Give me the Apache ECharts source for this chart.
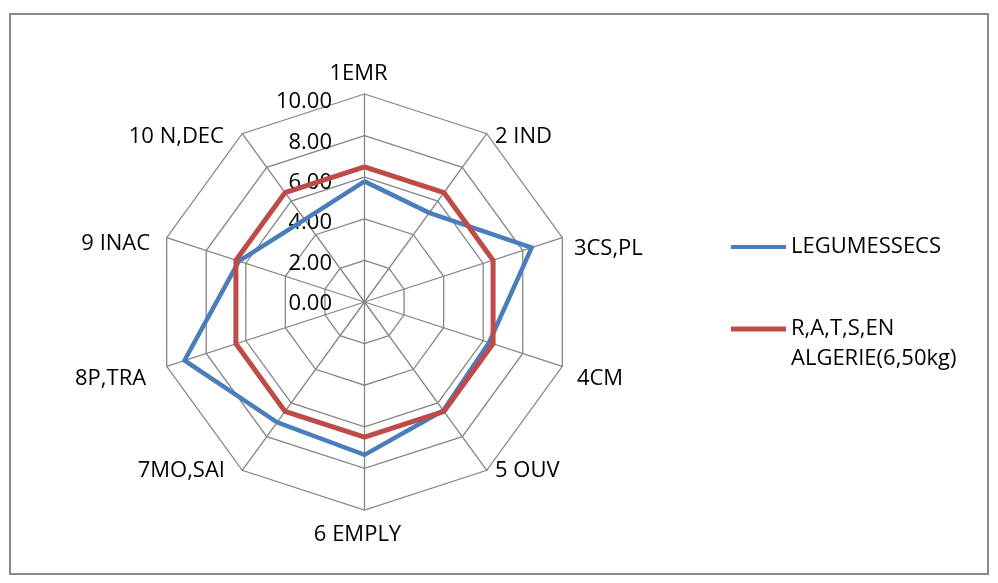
<!DOCTYPE html>
<html>
<head>
<meta charset="utf-8">
<script src="https://cdn.jsdelivr.net/npm/echarts@6/dist/echarts.min.js"></script>
<style>
html,body{margin:0;padding:0;background:#fff;}
#chart{width:998px;height:583px;}
</style>
</head>
<body>
<div id="chart"></div>
<script>
const categories = ['1EMR', '2 IND', '3CS,PL', '4CM', '5 OUV', '6 EMPLY', '7MO,SAI', '8P,TRA', '9 INAC', '10 N,DEC'];
const seriesNames = ['LEGUMESSECS', 'R,A,T,S,EN\nALGERIE(6,50kg)'];
const legumesSecs = [5.8, 5.3, 8.45, 6.3, 6.45, 7.35, 7.15, 9.1, 6.35, 4.9];
const ratsAlgerie = [6.5, 6.5, 6.5, 6.5, 6.5, 6.5, 6.5, 6.5, 6.5, 6.5];
const axisMin = 0, axisMax = 10, axisStep = 2;

const FONT = '"Open Sans", "Noto Sans", sans-serif';
const FS = 22;
const cx = 364.5, cy = 302, R = 208;

// per-name label nudges (padding [top,right,bottom,left]) to mimic the original label placement
const namePads = [[0,12,0,0],[20,0,0,3],[28,0,0,3],[20,0,0,6],[0,0,14,3],[5,14,0,0],[0,12,14,0],[20,12,0,0],[18,8,0,0],[20,13,0,0]];
const rich = {};
namePads.forEach((p, i) => { rich['n' + i] = { color: '#000', fontFamily: FONT, fontSize: FS, padding: p }; });

// ECharts radar runs counter-clockwise; reorder so categories run clockwise from the top
const order = categories.map((_, i) => (categories.length - i) % categories.length);
const reorder = arr => order.map(i => arr[i]);

const chart = echarts.init(document.getElementById('chart'));
chart.setOption({
  animation: false,
  backgroundColor: '#fff',
  textStyle: { fontFamily: FONT },
  graphic: [{
    type: 'rect', silent: true, z: -10,
    shape: { x: 10, y: 14, width: 978, height: 560 },
    style: { fill: 'none', stroke: '#898989', lineWidth: 2 }
  }],
  legend: [{
    data: [seriesNames[0]],
    orient: 'vertical', left: 731, top: 232, padding: 0,
    icon: 'rect', itemWidth: 55, itemHeight: 4,
    textStyle: { fontFamily: FONT, fontSize: FS, color: '#000', lineHeight: 30 }
  }, {
    data: [seriesNames[1]],
    orient: 'vertical', left: 731, top: 284, padding: 0,
    icon: 'rect', itemWidth: 55, itemHeight: 5,
    formatter: n => '\n' + n,
    textStyle: { fontFamily: FONT, fontSize: FS, color: '#000', lineHeight: 30 }
  }],
  radar: {
    center: [cx, cy],
    radius: R,
    startAngle: 90,
    shape: 'polygon',
    splitNumber: (axisMax - axisMin) / axisStep,
    indicator: reorder(categories).map(c => ({ name: c, min: axisMin, max: axisMax })),
    axisName: {
      color: '#000', fontFamily: FONT, fontSize: FS,
      formatter: (name) => '{n' + categories.indexOf(name) + '|' + name + '}',
      rich: rich
    },
    nameGap: 9,
    axisLine: { lineStyle: { color: '#868686', width: 1.3 } },
    splitLine: { lineStyle: { color: '#868686', width: 1.3 } },
    splitArea: { show: false },
    axisTick: { show: false },
    axisLabel: { show: false }
  },
  grid: { left: 340, width: 10, top: 102, height: 202 },
  xAxis: { type: 'value', show: false },
  yAxis: {
    type: 'value', min: axisMin, max: axisMax, interval: axisStep,
    axisLine: { show: false }, axisTick: { show: false }, splitLine: { show: false },
    axisLabel: { margin: 8, color: '#000', fontFamily: FONT, fontSize: FS, formatter: v => v.toFixed(2) }
  },
  series: [{
    type: 'radar',
    symbol: 'none',
    data: [{
      name: seriesNames[0], value: reorder(legumesSecs),
      lineStyle: { color: '#4A7EBB', width: 4.5, join: 'miter' },
      itemStyle: { color: '#4A7EBB' }
    }, {
      name: seriesNames[1], value: reorder(ratsAlgerie),
      lineStyle: { color: '#BE4B48', width: 5, join: 'miter' },
      itemStyle: { color: '#BE4B48' }
    }]
  }]
});
</script>
</body>
</html>
